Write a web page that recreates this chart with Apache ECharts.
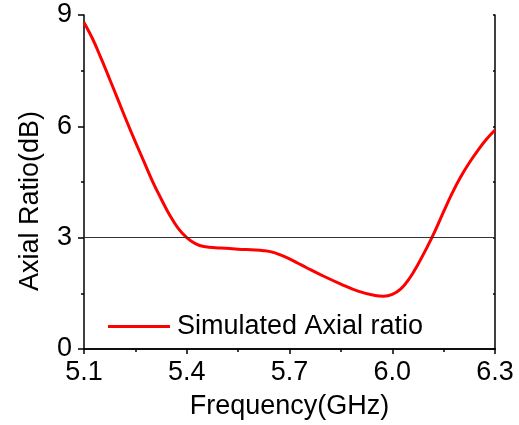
<!DOCTYPE html>
<html>
<head>
<meta charset="utf-8">
<script src="https://cdn.jsdelivr.net/npm/echarts@6/dist/echarts.min.js"></script>
<style>html,body{margin:0;padding:0;background:#fff}#c{width:519px;height:425px}</style>
</head>
<body>
<div id="c"></div>
<script>
var freqGHz = [5.10,5.125,5.15,5.175,5.20,5.225,5.25,5.275,5.30,5.325,5.35,5.375,5.40,5.425,5.45,5.50,5.55,5.60,5.625,5.65,5.675,5.70,5.725,5.75,5.80,5.85,5.90,5.95,5.975,6.00,6.025,6.05,6.075,6.10,6.125,6.15,6.175,6.20,6.225,6.25,6.275,6.30];
var axialRatio = [8.80,8.36,7.83,7.27,6.70,6.13,5.58,5.05,4.52,4.05,3.61,3.25,3.00,2.84,2.76,2.72,2.69,2.67,2.65,2.61,2.53,2.43,2.31,2.19,1.96,1.75,1.56,1.44,1.42,1.47,1.62,1.90,2.28,2.71,3.18,3.70,4.20,4.64,5.02,5.35,5.65,5.90];
var seriesName = 'Simulated Axial ratio';
var refLevel = 3;
var xTitle = 'Frequency(GHz)';
var yTitle = 'Axial Ratio(dB)';

var FONT = 'Liberation Sans, Arial, sans-serif';
var pts = freqGHz.map(function (f, i) { return [f, axialRatio[i]]; });
var chart = echarts.init(document.getElementById('c'), null, {renderer: 'canvas'});
var axLine = {show: true, lineStyle: {color: '#000', width: 1.5}};
chart.setOption({
  animation: false,
  backgroundColor: '#fff',
  grid: {left: 84, right: 24, top: 15, bottom: 76, containLabel: false},
  legend: {
    data: [{name: seriesName, icon: 'rect'}],
    left: 108, top: 313, padding: 0,
    itemWidth: 62, itemHeight: 3,
    itemGap: 0,
    textStyle: {fontFamily: FONT, fontSize: 27, color: '#000', padding: [0, 0, 0, 2]},
    selectedMode: false
  },
  xAxis: [{
    type: 'value', position: 'bottom', min: 5.1, max: 6.3, interval: 0.3,
    axisLine: axLine,
    axisTick: {show: true, inside: false, length: 5, lineStyle: {color: '#000', width: 1.5}},
    minorTick: {show: true, splitNumber: 2, length: 3, lineStyle: {color: '#000', width: 1.5}},
    splitLine: {show: false},
    axisLabel: {fontFamily: FONT, fontSize: 27, color: '#000', margin: 10,
      formatter: function (v) { return v.toFixed(1); }},
    name: xTitle, nameLocation: 'middle', nameGap: 44,
    nameTextStyle: {fontFamily: FONT, fontSize: 27, color: '#000'}
  }, {
    type: 'value', position: 'top', min: 5.1, max: 6.3, interval: 0.15,
    axisLine: axLine,
    axisTick: {show: true, inside: true, length: 2, lineStyle: {color: '#000', width: 1.5}},
    axisLabel: {show: false}, splitLine: {show: false}
  }],
  yAxis: [{
    type: 'value', position: 'left', min: 0, max: 9, interval: 3,
    axisLine: axLine,
    axisTick: {show: true, inside: false, length: 6, lineStyle: {color: '#000', width: 1.5}},
    minorTick: {show: true, splitNumber: 2, length: 3, lineStyle: {color: '#000', width: 1.5}},
    splitLine: {show: false},
    axisLabel: {fontFamily: FONT, fontSize: 27, color: '#000', margin: 12},
    name: yTitle, nameLocation: 'middle', nameGap: 40,
    nameTextStyle: {fontFamily: FONT, fontSize: 27, color: '#000', padding: [0, 38, 0, 0]}
  }, {
    type: 'value', position: 'right', min: 0, max: 9, interval: 1.5,
    axisLine: axLine,
    axisTick: {show: true, inside: true, length: 2, lineStyle: {color: '#000', width: 1.5}},
    axisLabel: {show: false}, splitLine: {show: false}
  }],
  series: [{
    name: seriesName, type: 'line', data: pts, xAxisIndex: 0, yAxisIndex: 0,
    smooth: 0.4, symbol: 'none', showSymbol: false,
    lineStyle: {color: '#ff0000', width: 3}, itemStyle: {color: '#ff0000'},
    markLine: {
      silent: true, symbol: ['none', 'none'], label: {show: false},
      lineStyle: {color: '#333', width: 1, type: 'solid'},
      data: [{yAxis: refLevel}]
    },
    z: 3
  }]
});
</script>
</body>
</html>
